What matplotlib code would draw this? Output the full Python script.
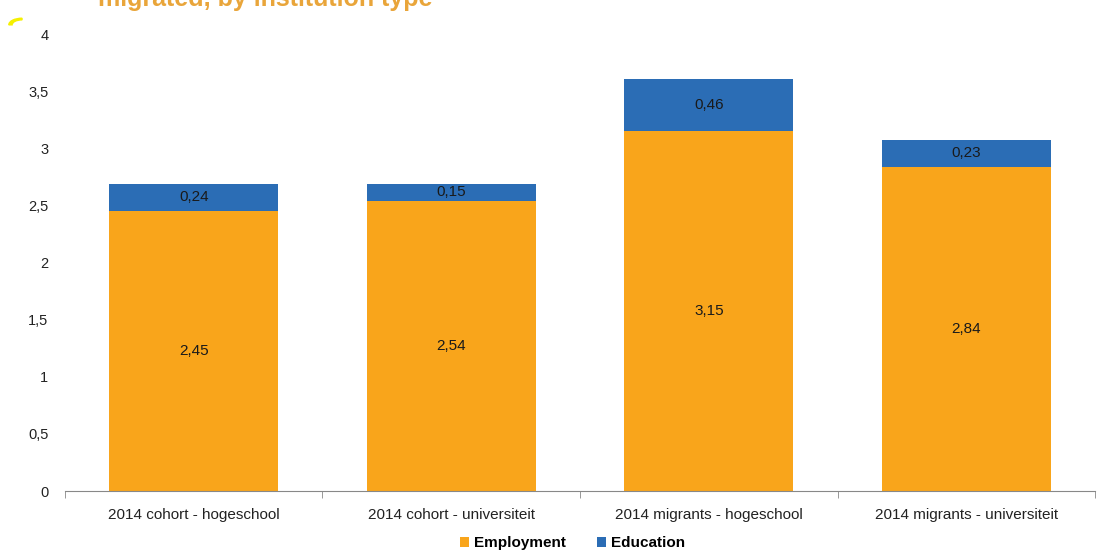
import matplotlib.pyplot as plt
import numpy as np
from matplotlib.patches import Wedge

plt.rcParams['font.family'] = ['Liberation Sans', 'DejaVu Sans']

categories = ['2014 cohort - hogeschool', '2014 cohort - universiteit',
              '2014 migrants - hogeschool', '2014 migrants - universiteit']
employment = [2.45, 2.54, 3.15, 2.84]
education = [0.24, 0.15, 0.46, 0.23]
yticks = [0, 0.5, 1, 1.5, 2, 2.5, 3, 3.5, 4]
ytick_labels = ['0', '0,5', '1', '1,5', '2', '2,5', '3', '3,5', '4']

orange = '#F9A51B'
blue = '#2B6DB5'

fig = plt.figure(figsize=(11.01, 5.52), dpi=100)
ax = fig.add_axes([0.059, 0.1105, 0.9356, 0.8279])

x = np.arange(len(categories))
w = 0.656
b1 = ax.bar(x, employment, w, color=orange, label='Employment', zorder=2)
b2 = ax.bar(x, education, w, bottom=employment, color=blue, label='Education', zorder=2)

# data labels, decimal comma
for i in range(len(x)):
    ax.text(x[i], employment[i] / 2, f'{employment[i]:.2f}'.replace('.', ','),
            ha='center', va='center', fontsize=11, color='#1a1a1a')
    ax.text(x[i], employment[i] + education[i] / 2, f'{education[i]:.2f}'.replace('.', ','),
            ha='center', va='center', fontsize=11, color='#1a1a1a')

ax.set_xlim(-0.5, 3.5)
ax.set_ylim(0, 4)
ax.set_yticks(yticks)
ax.set_yticklabels(ytick_labels, fontsize=10.5, color='#222222')
ax.tick_params(axis='y', length=0, pad=12)

ax.set_xticks(x)
ax.set_xticklabels(categories, fontsize=11, color='#222222')
ax.tick_params(axis='x', length=0, pad=12)
ax.set_xticks(np.arange(-0.5, 4, 1), minor=True)
ax.tick_params(axis='x', which='minor', length=5, color='#888888', direction='out')

for s in ['top', 'right', 'left']:
    ax.spines[s].set_visible(False)
ax.spines['bottom'].set_color('#888888')

leg = fig.legend(handles=[b1, b2], loc='center', bbox_to_anchor=(0.52, 0.016),
                 ncol=2, frameon=False, handlelength=0.6, handleheight=0.6,
                 handletextpad=0.35, columnspacing=2.0,
                 prop={'weight': 'bold', 'size': 11})

# title is cut off at the top edge in the original
fig.text(0.089, 1 - 6 / 552, 'migrated, by institution type', color='#E9A53A',
         fontsize=18, fontweight='bold', va='baseline', ha='left')

fig.patches.append(Wedge((0.02, 0.955), 0.012, 90, 180, width=0.003,
                         transform=fig.transFigure, color='#F5F000', figure=fig))

fig.savefig('out.png', dpi=100)
